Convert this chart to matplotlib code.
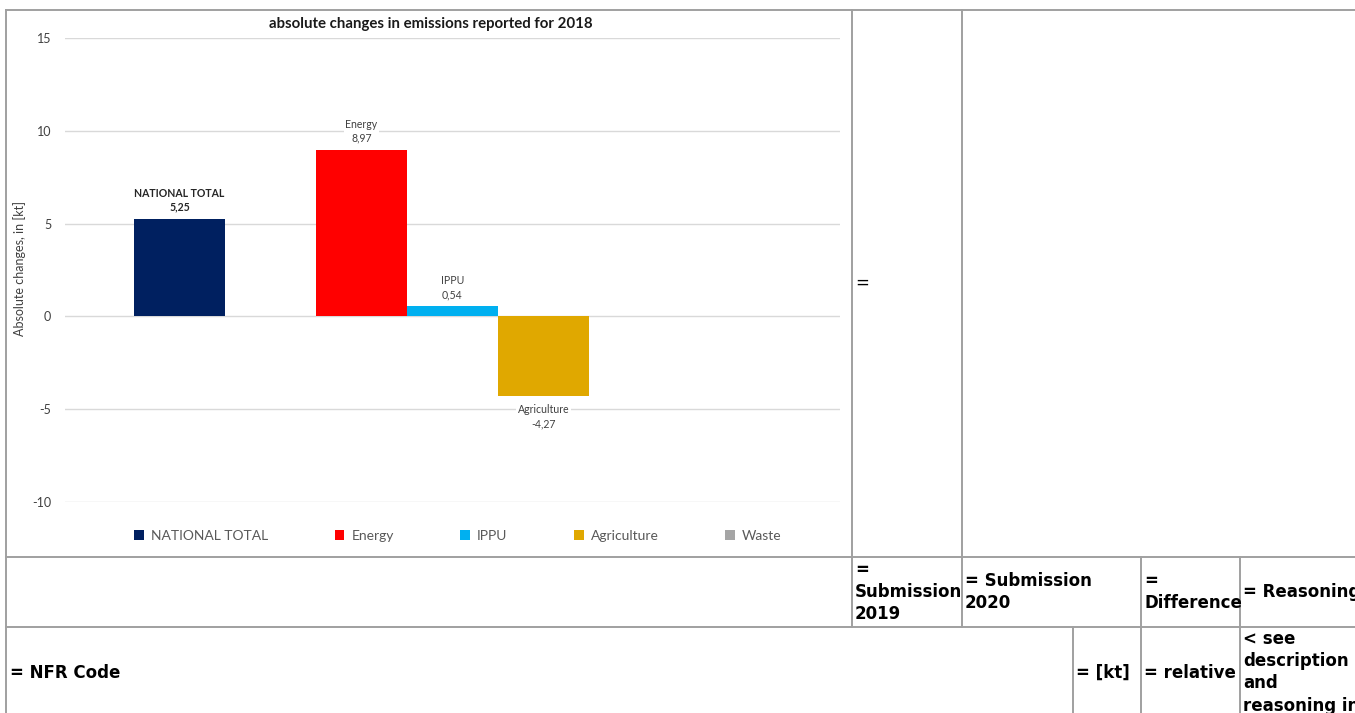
import matplotlib.pyplot as plt
from matplotlib.lines import Line2D

plt.rcParams['axes.unicode_minus'] = False

# chart data
categories = ["NATIONAL TOTAL", "Energy", "IPPU", "Agriculture", "Waste"]
values = [5.25, 8.97, 0.54, -4.27, 0.0]
bar_colors = ["#002060", "#FF0000", "#00B0F0", "#E0A800", "#A5A5A5"]
yticks = [-10, -5, 0, 5, 10, 15]

W, H = 1355, 713
fig = plt.figure(figsize=(W / 100, H / 100), dpi=100)

def fx(px):
    return px / W

def fy(py):
    return 1 - py / H

# table borders around the chart
border = "#a0a0a0"
def hline(y, x0, x1):
    fig.add_artist(Line2D([fx(x0), fx(x1)], [fy(y), fy(y)], color=border, lw=1.4))

def vline(x, y0, y1):
    fig.add_artist(Line2D([fx(x), fx(x)], [fy(y0), fy(y1)], color=border, lw=1.4))

hline(10, 6, W)
hline(557, 6, W)
hline(627, 6, W)
vline(6, 10, H)
vline(852, 10, 627)
vline(962, 10, 627)
vline(1073, 627, H)
vline(1141, 557, H)
vline(1240, 557, H)

tfont = dict(family="DejaVu Sans", fontsize=12, color="black", linespacing=1.3)
fig.text(fx(855), fy(283), "=", va="center", ha="left", **tfont)
fig.text(fx(855), fy(592), "=\nSubmission\n2019", va="center", ha="left", weight="bold", **tfont)
fig.text(fx(965), fy(592), "= Submission\n2020", va="center", ha="left", weight="bold", **tfont)
fig.text(fx(1144), fy(592), "=\nDifference", va="center", ha="left", weight="bold", **tfont)
fig.text(fx(1243), fy(592), "= Reasoning", va="center", ha="left", weight="bold", **tfont)
fig.text(fx(10), fy(673), "= NFR Code", va="center", ha="left", weight="bold", **tfont)
fig.text(fx(1076), fy(673), "= [kt]", va="center", ha="left", weight="bold", **tfont)
fig.text(fx(1144), fy(673), "= relative", va="center", ha="left", weight="bold", **tfont)
fig.text(fx(1243), fy(630), "< see\ndescription\nand\nreasoning in", va="top", ha="left",
         weight="bold", **tfont)

# the chart
ax = fig.add_axes([fx(65), fy(502), fx(840) - fx(65), fy(38) - fy(502)])
xpos = [0, 2, 3, 4, 5]
bars = ax.bar(xpos, values, width=1.0, color=bar_colors, zorder=2)
ax.set_xlim(-1.26, 7.26)
ax.set_ylim(-10, 15)
ax.set_yticks(yticks)
ax.set_xticks([])
ax.yaxis.grid(True, color="#d9d9d9", lw=1, zorder=0)
for s in ax.spines.values():
    s.set_visible(False)
ax.tick_params(axis="y", length=0, pad=10, labelsize=9, labelcolor="#404040")
for lab in ax.get_yticklabels():
    lab.set_family("Lato")

for x, v, name in zip(xpos, values, categories):
    if v == 0:
        continue
    txt = name + "\n" + f"{v:.2f}".replace(".", ",")
    off = 4.5 if v > 0 else -6
    bold = name == "NATIONAL TOTAL"
    ax.annotate(txt, (x, v), xytext=(0, off), textcoords="offset points",
                ha="center", va="bottom" if v > 0 else "top", fontsize=7.6,
                family="Lato", color="#262626" if bold else "#404040", linespacing=1.35,
                weight="bold" if bold else "normal",
                bbox=dict(boxstyle="square,pad=0.15", fc="white", ec="none"), zorder=3)

fig.text(fx(431), fy(24), "absolute changes in emissions reported for 2018", ha="center",
         va="center", fontsize=10.8, weight="bold", family="Lato", color="#1a1a1a")
fig.text(fx(20), fy(268), "Absolute changes, in [kt]", rotation=90, ha="center", va="center",
         fontsize=9, family="Lato", color="#404040")

fig.legend(bars, categories, loc="center", bbox_to_anchor=(fx(458), fy(536)), ncol=5,
           frameon=False, handlelength=0.7, handleheight=0.7, handletextpad=0.5,
           columnspacing=4.8, prop=dict(family="Lato", size=10), labelcolor="#595959")

fig.savefig("out.png", dpi=100)
